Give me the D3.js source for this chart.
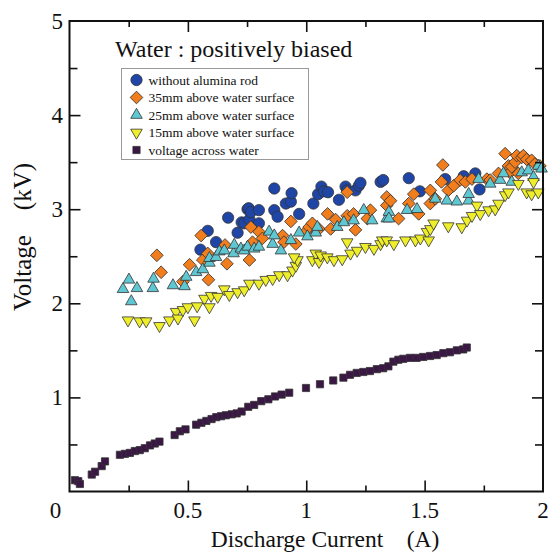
<!DOCTYPE html>
<html>
<head>
<meta charset="utf-8">
<script src="https://cdn.jsdelivr.net/npm/d3@7"></script>
<style>
  body { margin: 0; background: #fff; }
  text { font-family: "Liberation Serif", "Times New Roman", serif; fill: #111; }
</style>
</head>
<body>
<script>
// data: [current (A), voltage (kV)]
var withoutRod = [[0.553,2.57],[0.584,2.77],[0.619,2.65],[0.67,2.91],[0.71,2.75],[0.727,2.86],[0.738,2.85],
  [0.752,3.00],[0.757,3.01],[0.76,2.89],[0.766,2.97],[0.80,2.85],[0.80,2.99],[0.865,3.22],[0.865,2.99],
  [0.879,2.92],[0.914,3.06],[0.935,3.08],[0.938,3.17],[0.97,2.95],[1.03,3.06],[1.05,3.16],[1.064,3.24],
  [1.075,3.19],[1.092,3.18],[1.138,3.10],[1.166,3.24],[1.173,3.20],[1.208,3.20],[1.222,3.25],[1.229,3.28],
  [1.314,3.29],[1.325,3.31],[1.433,3.33],[1.48,3.19],[1.587,3.32],[1.665,3.35],[1.714,3.38],[1.732,3.21]];

var above35 = [[0.369,2.51],[0.387,2.33],[0.479,2.23],[0.507,2.41],[0.556,2.72],[0.563,2.46],[0.584,2.53],
  [0.587,2.25],[0.657,2.62],[0.665,2.42],[0.76,2.46],[0.766,2.81],[0.773,2.65],[0.80,2.76],[0.815,2.69],
  [0.90,2.72],[0.906,2.65],[0.935,2.87],[0.956,2.63],[0.998,2.76],[1.012,2.81],[1.026,2.85],[1.054,2.79],
  [1.09,2.95],[1.103,2.79],[1.124,2.89],[1.173,3.18],[1.173,2.93],[1.20,2.95],[1.208,2.78],[1.258,2.90],
  [1.271,2.99],[1.34,3.13],[1.34,3.04],[1.356,3.09],[1.39,2.90],[1.433,3.06],[1.454,3.16],[1.475,2.95],
  [1.524,3.06],[1.524,3.20],[1.545,3.11],[1.571,3.29],[1.577,3.47],[1.60,3.20],[1.623,3.25],[1.65,3.31],
  [1.672,3.29],[1.70,3.32],[1.763,3.32],[1.777,3.31],[1.812,3.38],[1.84,3.59],[1.854,3.46],[1.861,3.39],
  [1.868,3.45],[1.882,3.50],[1.889,3.57],[1.896,3.38],[1.91,3.55],[1.917,3.57],[1.931,3.53],[1.952,3.52],
  [1.966,3.48],[1.987,3.46]];

var above25 = [[0.226,2.15],[0.251,2.25],[0.261,2.02],[0.285,2.16],[0.352,2.16],[0.355,2.26],[0.437,2.19],
  [0.486,2.18],[0.493,2.28],[0.535,2.33],[0.563,2.36],[0.591,2.43],[0.591,2.48],[0.619,2.49],[0.633,2.55],
  [0.654,2.56],[0.693,2.53],[0.696,2.62],[0.724,2.58],[0.738,2.56],[0.752,2.60],[0.78,2.58],[0.80,2.60],
  [0.843,2.76],[0.858,2.63],[0.865,2.72],[0.893,2.56],[0.935,2.67],[0.97,2.75],[1.005,2.71],[1.04,2.75],
  [1.047,2.81],[1.131,2.81],[1.159,2.86],[1.20,2.88],[1.243,2.99],[1.278,2.88],[1.34,2.90],[1.349,2.97],
  [1.349,2.90],[1.426,2.99],[1.468,3.00],[1.545,3.11],[1.594,3.09],[1.636,3.08],[1.686,3.09],[1.686,3.16],
  [1.728,3.32],[1.777,3.27],[1.819,3.31],[1.833,3.38],[1.868,3.29],[1.91,3.39],[1.938,3.41],[1.96,3.34],
  [1.98,3.46],[1.994,3.43]];

var above15 = [[0.247,1.82],[0.296,1.81],[0.324,1.81],[0.38,1.76],[0.422,1.82],[0.45,1.91],[0.458,1.84],
  [0.479,1.93],[0.5,1.96],[0.528,1.82],[0.539,1.97],[0.57,2.05],[0.591,1.96],[0.598,2.08],[0.626,2.07],
  [0.654,2.15],[0.675,2.09],[0.71,2.12],[0.738,2.14],[0.76,2.21],[0.80,2.21],[0.829,2.25],[0.858,2.26],
  [0.886,2.30],[0.921,2.30],[0.942,2.35],[0.956,2.40],[0.963,2.46],[0.949,2.49],[1.026,2.46],[1.04,2.53],
  [1.054,2.44],[1.061,2.51],[1.089,2.49],[1.117,2.46],[1.152,2.47],[1.173,2.65],[1.187,2.53],[1.215,2.56],
  [1.25,2.60],[1.286,2.58],[1.314,2.63],[1.321,2.67],[1.34,2.67],[1.37,2.63],[1.419,2.67],[1.461,2.67],
  [1.482,2.69],[1.51,2.76],[1.517,2.67],[1.524,2.79],[1.538,2.85],[1.60,2.82],[1.657,2.81],[1.679,2.88],
  [1.70,2.93],[1.721,3.04],[1.735,2.95],[1.77,2.99],[1.798,3.00],[1.812,3.06],[1.84,3.15],[1.854,3.18],
  [1.896,3.27],[1.931,3.18],[1.952,3.16],[1.96,3.29],[1.98,3.18]];

var acrossWater = [[0.023,0.12],[0.037,0.11],[0.044,0.08],[0.094,0.18],[0.108,0.21],[0.136,0.27],[0.15,0.32],
  [0.213,0.39],[0.234,0.40],[0.255,0.41],[0.276,0.43],[0.297,0.44],[0.318,0.46],[0.34,0.49],[0.36,0.51],
  [0.38,0.53],[0.444,0.60],[0.466,0.64],[0.49,0.66],[0.535,0.71],[0.557,0.73],[0.578,0.75],[0.60,0.77],
  [0.62,0.79],[0.64,0.80],[0.66,0.81],[0.685,0.82],[0.706,0.83],[0.727,0.85],[0.755,0.90],[0.78,0.92],
  [0.81,0.96],[0.84,0.98],[0.868,1.01],[0.896,1.03],[0.928,1.05],[0.999,1.10],[1.058,1.14],[1.114,1.18],
  [1.157,1.21],[1.185,1.24],[1.213,1.26],[1.241,1.27],[1.269,1.28],[1.298,1.30],[1.325,1.31],[1.347,1.33],
  [1.368,1.38],[1.389,1.40],[1.41,1.41],[1.438,1.42],[1.466,1.42],[1.494,1.43],[1.523,1.44],[1.551,1.45],
  [1.579,1.47],[1.607,1.48],[1.636,1.50],[1.663,1.51],[1.678,1.53]];

var seriesNames = ["without alumina rod", "35mm above water surface", "25mm above water surface",
                   "15mm above water surface", "voltage across water"];
var xTicks = [0, 0.5, 1, 1.5, 2];
var yTicks = [1, 2, 3, 4, 5];

var series = [
  {name: seriesNames[0], data: withoutRod,  shape: "circle",  fill: "#1f45a6"},
  {name: seriesNames[1], data: above35,     shape: "diamond", fill: "#f27d1c"},
  {name: seriesNames[2], data: above25,     shape: "up",      fill: "#5ec7d2"},
  {name: seriesNames[3], data: above15,     shape: "down",    fill: "#eeee2a"},
  {name: seriesNames[4], data: acrossWater, shape: "square",  fill: "#3b1745"}
];

var W = 548, H = 552;
var pLeft = 69.5, pRight = 543, pTop = 21, pBottom = 491.5;

var x = d3.scaleLinear().domain([0, 2]).range([pLeft, pRight]);
var y = d3.scaleLinear().domain([0, 5]).range([pBottom, pTop]);

var svg = d3.select("body").append("svg")
    .attr("width", W)
    .attr("height", H);

function symbolPath(shape) {
    if (shape == "circle") return d3.symbol(d3.symbolCircle, 100)();
    if (shape == "diamond") return d3.symbol(d3.symbolSquare, 80)();
    if (shape == "up" || shape == "down") return d3.symbol(d3.symbolTriangle, 58)();
    return d3.symbol(d3.symbolSquare, 52)();
}
function symbolRotate(shape) {
    if (shape == "diamond") return 45;
    if (shape == "down") return 180;
    return 0;
}

// markers
series.forEach(function(s) {
    svg.append("g")
        .selectAll("path")
        .data(s.data)
        .enter()
        .append("path")
        .attr("d", symbolPath(s.shape))
        .attr("transform", function(d) {
            return "translate(" + x(d[0]) + "," + y(d[1]) + ") rotate(" + symbolRotate(s.shape) + ")";
        })
        .attr("fill", s.fill)
        .attr("stroke", "#333")
        .attr("stroke-width", 0.8);
});

// ticks on all four sides, pointing inward
var xMinor = d3.range(0.25, 2, 0.5);
var yMinor = d3.range(0.5, 5, 1);

svg.append("g")
    .attr("transform", "translate(0," + pBottom + ")")
    .call(d3.axisTop(x).tickValues(xTicks.slice(1, 4)).tickSize(11).tickFormat(""));
svg.append("g")
    .attr("transform", "translate(0," + pBottom + ")")
    .call(d3.axisTop(x).tickValues(xMinor).tickSize(6).tickFormat(""));
svg.append("g")
    .attr("transform", "translate(0," + pTop + ")")
    .call(d3.axisBottom(x).tickValues(xTicks.slice(1, 4)).tickSize(11).tickFormat(""));
svg.append("g")
    .attr("transform", "translate(0," + pTop + ")")
    .call(d3.axisBottom(x).tickValues(xMinor).tickSize(6).tickFormat(""));
svg.append("g")
    .attr("transform", "translate(" + pLeft + ",0)")
    .call(d3.axisRight(y).tickValues(yTicks.slice(0, 4)).tickSize(11).tickFormat(""));
svg.append("g")
    .attr("transform", "translate(" + pLeft + ",0)")
    .call(d3.axisRight(y).tickValues(yMinor).tickSize(8).tickFormat(""));
svg.append("g")
    .attr("transform", "translate(" + pRight + ",0)")
    .call(d3.axisLeft(y).tickValues(yTicks.slice(0, 4)).tickSize(11).tickFormat(""));
svg.append("g")
    .attr("transform", "translate(" + pRight + ",0)")
    .call(d3.axisLeft(y).tickValues(yMinor).tickSize(8).tickFormat(""));

svg.selectAll(".domain").remove();
svg.selectAll(".tick line").attr("stroke", "#111").attr("stroke-width", 1.6);

// frame
svg.append("rect")
    .attr("x", pLeft).attr("y", pTop)
    .attr("width", pRight - pLeft).attr("height", pBottom - pTop)
    .attr("fill", "none")
    .attr("stroke", "#111")
    .attr("stroke-width", 2);

// tick labels
svg.append("g").selectAll("text")
    .data(xTicks)
    .enter().append("text")
    .attr("x", function(d) { return d == 0 ? x(d) - 14 : x(d); })
    .attr("y", 518)
    .attr("text-anchor", "middle")
    .attr("font-size", 23)
    .text(function(d) { return d; });

svg.append("g").selectAll("text")
    .data(yTicks)
    .enter().append("text")
    .attr("x", pLeft - 6.5)
    .attr("y", function(d) { return y(d) + 8; })
    .attr("text-anchor", "end")
    .attr("font-size", 23)
    .text(function(d) { return d; });

// axis titles
svg.append("text")
    .attr("x", 325).attr("y", 547)
    .attr("text-anchor", "middle")
    .attr("font-size", 23.5)
    .attr("xml:space", "preserve")
    .text("Discharge Current    (A)");

svg.append("text")
    .attr("transform", "translate(31,237) rotate(-90)")
    .attr("text-anchor", "middle")
    .attr("font-size", 25)
    .attr("xml:space", "preserve")
    .text("Voltage    (kV)");

// title and legend
svg.append("text")
    .attr("x", 115).attr("y", 57)
    .attr("font-size", 24)
    .text("Water : positively biased");

var legend = svg.append("g");
legend.append("rect")
    .attr("x", 121.5).attr("y", 68.5)
    .attr("width", 187).attr("height", 91)
    .attr("fill", "#fff")
    .attr("stroke", "#999")
    .attr("stroke-width", 1);

var item = legend.selectAll("g.item")
    .data(series)
    .enter().append("g")
    .attr("class", "item")
    .attr("transform", function(d, i) { return "translate(136.5," + (80 + i * 17.5) + ")"; });

item.append("path")
    .attr("d", function(d) { return symbolPath(d.shape); })
    .attr("transform", function(d) { return "rotate(" + symbolRotate(d.shape) + ")"; })
    .attr("fill", function(d) { return d.fill; })
    .attr("stroke", "#333")
    .attr("stroke-width", 0.8);

item.append("text")
    .attr("x", 12)
    .attr("y", 4.5)
    .attr("font-size", 13.5)
    .text(function(d) { return d.name; });
</script>
</body>
</html>
